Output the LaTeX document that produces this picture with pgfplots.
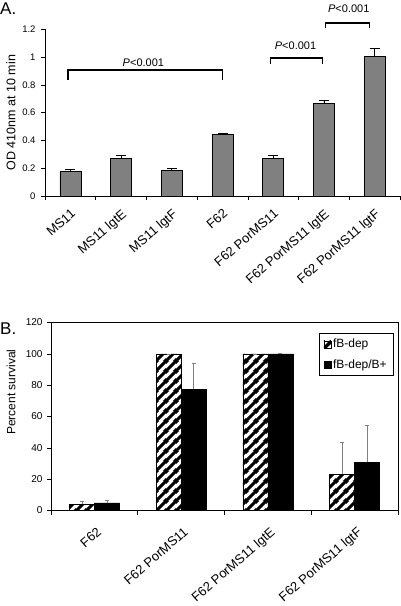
\documentclass[border=0pt]{standalone}
\usepackage{fontspec}
\setmainfont{Liberation Sans}
\usepackage{pgfplots}
\usepackage{pgfplotstable}
\pgfplotsset{compat=1.18}
\usetikzlibrary{patterns}
\pgfdeclarepatternformonly{thickstripes}{\pgfqpoint{0pt}{0pt}}{\pgfqpoint{9.5pt}{9.5pt}}{\pgfqpoint{9.5pt}{9.5pt}}{%
 \pgfsetlinewidth{3.2pt}%
 \pgfpathmoveto{\pgfqpoint{-2pt}{-2pt}}\pgfpathlineto{\pgfqpoint{11.5pt}{11.5pt}}%
 \pgfpathmoveto{\pgfqpoint{-2pt}{7.5pt}}\pgfpathlineto{\pgfqpoint{2pt}{11.5pt}}%
 \pgfpathmoveto{\pgfqpoint{7.5pt}{-2pt}}\pgfpathlineto{\pgfqpoint{11.5pt}{2pt}}%
 \pgfusepath{stroke}}
\definecolor{bargray}{RGB}{128,128,128}

\pgfplotstableread{
x y e
0 0.175 0.017
1 0.271 0.024
2 0.182 0.017
3 0.444 0.007
4 0.271 0.024
5 0.667 0.024
6 1.007 0.055
}\tableA

\pgfplotstableread{
x y e
0 4.1 1.5
1 100 0
2 100 0
3 23.1 20.4
}\tableBa

\pgfplotstableread{
x y e
0 4.8 1.5
1 77.3 16.7
2 100 0.4
3 30.8 23.8
}\tableBb

\begin{document}
\begin{tikzpicture}
\path[use as bounding box] (0,0) rectangle (400pt,-606pt);

\node[anchor=base west, inner sep=0pt] at (0pt,-14pt) {\fontsize{17}{20}\selectfont A.};
\node[anchor=base west, inner sep=0pt] at (0pt,-334pt) {\fontsize{17}{20}\selectfont B.};

% ---------------- Panel A ----------------
\begin{axis}[
  at={(45pt,-196pt)}, anchor=south west,
  scale only axis, width=355pt, height=166.7pt,
  xmin=-0.5, xmax=6.5, ymin=0, ymax=1.2,
  clip=false,
  axis x line*=bottom, axis y line*=left,
  axis line style={-, black, line width=0.5pt},
  tick align=outside, major tick length=4pt,
  tick style={black, line width=0.5pt},
  ytick={0,0.2,...,1.2},
  yticklabel style={font=\fontsize{9.5}{11}\selectfont, /pgf/number format/assume math mode=true, /pgf/number format/fixed, xshift=-2pt},
  xtick={-0.5,0.5,...,6.5}, xticklabels={},
  extra x ticks={0,1,2,3,4,5,6},
  extra x tick labels={MS11, MS11 lgtE, MS11 lgtF, F62, F62 PorMS11, F62 PorMS11 lgtE, F62 PorMS11 lgtF},
  extra x tick style={major tick length=0pt},
  xticklabel style={rotate=41, anchor=north east, inner sep=1pt, xshift=-7pt, yshift=-8pt, font=\fontsize{13}{15}\selectfont},
  ylabel={OD 410nm at 10 min},
  every axis y label/.style={at={(axis description cs:-0.096,0.5)}, rotate=90, anchor=center, font=\fontsize{12.5}{14}\selectfont},
]
\addplot[ybar, bar width=21pt, fill=bargray, draw=black, line width=0.5pt,
  error bars/.cd, y dir=plus, y explicit,
  error bar style={black, line width=0.8pt},
  error mark options={rotate=90, mark size=5pt, line width=0.8pt, black}]
  table[x=x, y=y, y error=e] {\tableA};

\draw[line width=1.6pt] (axis cs:-0.05,0.835) -- (axis cs:-0.05,0.906) -- (axis cs:3.0,0.906) -- (axis cs:3.0,0.835);
\draw[line width=1.6pt] (axis cs:3.95,0.95) -- (axis cs:3.95,0.993) -- (axis cs:4.97,0.993) -- (axis cs:4.97,0.95);
\draw[line width=1.6pt] (axis cs:5.03,1.206) -- (axis cs:5.03,1.247) -- (axis cs:5.9,1.247) -- (axis cs:5.9,1.206);
\node at (axis cs:1.44,0.96) {\fontsize{11}{13}\selectfont\textit{P}<0.001};
\node at (axis cs:4.44,1.08) {\fontsize{11}{13}\selectfont\textit{P}<0.001};
\node at (axis cs:5.49,1.345) {\fontsize{11}{13}\selectfont\textit{P}<0.001};
\end{axis}

% ---------------- Panel B ----------------
\begin{axis}[
  at={(51pt,-510.5pt)}, anchor=south west,
  scale only axis, width=347pt, height=188pt,
  xmin=-0.5, xmax=3.5, ymin=0, ymax=120,
  ybar=0pt, bar width=25pt,
  axis line style={black, line width=0.5pt},
  tick align=outside, major tick length=4pt,
  tick style={black, line width=0.5pt},
  xtick pos=bottom, ytick pos=left,
  ytick={0,20,...,120},
  yticklabel style={font=\fontsize{10}{12}\selectfont, /pgf/number format/assume math mode=true, xshift=-1pt},
  xtick={-0.5,0.5,...,3.5}, xticklabels={},
  extra x ticks={0,1,2,3},
  extra x tick labels={F62, F62 PorMS11, F62 PorMS11 lgtE, F62 PorMS11 lgtF},
  extra x tick style={major tick length=0pt},
  xticklabel style={rotate=41, anchor=north east, inner sep=1pt, xshift=-8pt, yshift=-12pt, font=\fontsize{13}{15}\selectfont},
  ylabel={Percent survival},
  every axis y label/.style={at={(axis description cs:-0.115,0.63)}, rotate=90, anchor=center, font=\fontsize{12}{14}\selectfont},
  legend style={at={(axis description cs:0.9856,0.944)}, anchor=north east, draw=black, line width=0.5pt,
    font=\fontsize{12}{14}\selectfont, row sep=6pt, inner xsep=4pt, inner ysep=4pt, legend cell align=left},
  legend image code/.code={\draw[#1] (0pt,-3.5pt) rectangle (7pt,3.5pt);},
]
\addplot[pattern=thickstripes, draw=black, line width=0.5pt,
  error bars/.cd, y dir=plus, y explicit,
  error bar style={gray, line width=0.5pt},
  error mark options={rotate=90, mark size=2pt, gray, line width=0.5pt}]
  table[x=x, y=y, y error=e] {\tableBa};
\addlegendentry{fB-dep}
\addplot[fill=black, draw=black, line width=0.5pt,
  error bars/.cd, y dir=plus, y explicit,
  error bar style={gray, line width=0.5pt},
  error mark options={rotate=90, mark size=2pt, gray, line width=0.5pt}]
  table[x=x, y=y, y error=e] {\tableBb};
\addlegendentry{fB-dep/B+}
\end{axis}
\end{tikzpicture}
\end{document}
